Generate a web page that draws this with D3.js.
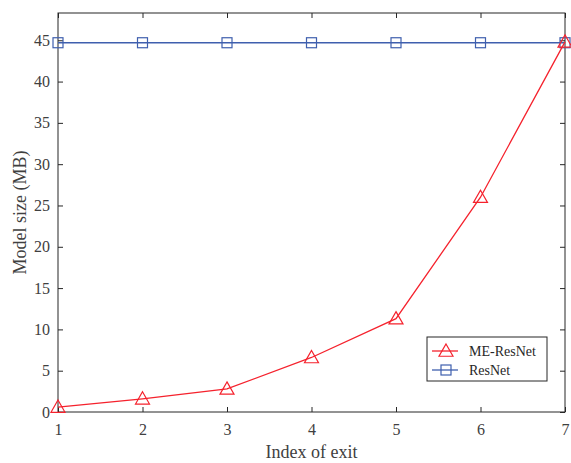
<!DOCTYPE html>
<html>
<head>
<meta charset="utf-8">
<script src="https://cdn.jsdelivr.net/npm/d3@7"></script>
<style>
  body { margin: 0; background: #fff; }
  svg { display: block; }
</style>
</head>
<body>
<svg id="chart" width="571" height="463"></svg>
<script>
// exit indices and model sizes (MB)
const exits = [1, 2, 3, 4, 5, 6, 7];
const meResNet = [0.6, 1.6, 2.8, 6.6, 11.3, 26.0, 44.8];
const resNet = [44.7, 44.7, 44.7, 44.7, 44.7, 44.7, 44.7];
const yTicks = [0, 5, 10, 15, 20, 25, 30, 35, 40, 45];
const seriesNames = ["ME-ResNet", "ResNet"];

const svg = d3.select("#chart");
const margin = { left: 58, right: 6, top: 13, bottom: 51 };
const width = 571, height = 463;

const x = d3.scaleLinear().domain([1, 7]).range([margin.left, width - margin.right]);
const y = d3.scaleLinear().domain([0, 48.3]).range([height - margin.bottom, margin.top]);

const red = "#f5222d", blue = "#3f5fae";
const font = "'Liberation Serif', 'Times New Roman', serif";

// box + ticks
const axisColor = "#262626";
const g = svg.append("g");

function styleAxis(sel) {
  sel.attr("font-family", null);
  sel.select(".domain").remove();
  sel.selectAll("line").attr("stroke", axisColor);
  sel.selectAll("text").attr("fill", "#404040")
    .style("font-family", font).style("font-size", "16px");
}

g.append("g")
  .attr("transform", `translate(0,${y(0)})`)
  .call(d3.axisBottom(x).tickValues(exits).tickFormat(d3.format("d")).tickSizeInner(-5).tickPadding(12))
  .call(styleAxis);
g.append("g")
  .attr("transform", `translate(0,${margin.top})`)
  .call(d3.axisTop(x).tickValues(exits).tickSizeInner(-5).tickFormat(""))
  .call(styleAxis);
g.append("g")
  .attr("transform", `translate(${margin.left},0)`)
  .call(d3.axisLeft(y).tickValues(yTicks).tickSizeInner(-5).tickPadding(8))
  .call(styleAxis);
g.append("g")
  .attr("transform", `translate(${width - margin.right},0)`)
  .call(d3.axisRight(y).tickValues(yTicks).tickSizeInner(-5).tickFormat(""))
  .call(styleAxis);

g.append("rect")
  .attr("x", margin.left).attr("y", margin.top)
  .attr("width", x(7) - x(1)).attr("height", y(0) - margin.top)
  .attr("fill", "none").attr("stroke", axisColor).attr("stroke-width", 1);

// markers
function triangle(sel, cx, cy, color) {
  const s = 7;
  sel.append("path")
    .attr("d", `M${cx},${cy - s}L${cx + s},${cy + s * 0.75}L${cx - s},${cy + s * 0.75}Z`)
    .attr("fill", "none").attr("stroke", color).attr("stroke-width", 1.2);
}
function square(sel, cx, cy, color) {
  const s = 5;
  sel.append("rect")
    .attr("x", cx - s).attr("y", cy - s).attr("width", 2 * s).attr("height", 2 * s)
    .attr("fill", "none").attr("stroke", color).attr("stroke-width", 1.2);
}

const line = d3.line().x((d, i) => x(exits[i])).y(d => y(d));

const resG = svg.append("g");
resG.append("path").datum(resNet).attr("d", line)
  .attr("fill", "none").attr("stroke", blue).attr("stroke-width", 1.3);
resNet.forEach((v, i) => square(resG, x(exits[i]), y(v), blue));

const meG = svg.append("g");
meG.append("path").datum(meResNet).attr("d", line)
  .attr("fill", "none").attr("stroke", red).attr("stroke-width", 1.3);
meResNet.forEach((v, i) => triangle(meG, x(exits[i]), y(v), red));

// axis titles
svg.append("text")
  .attr("x", (x(1) + x(7)) / 2).attr("y", 458)
  .attr("text-anchor", "middle")
  .style("font-family", font).style("font-size", "18px").attr("fill", "#404040")
  .text("Index of exit");
svg.append("text")
  .attr("transform", `translate(26,${(y(0) + margin.top) / 2}) rotate(-90)`)
  .attr("text-anchor", "middle")
  .style("font-family", font).style("font-size", "18px").attr("fill", "#404040")
  .text("Model size (MB)");

// legend
const leg = svg.append("g").attr("transform", "translate(427,337)");
leg.append("rect").attr("width", 120).attr("height", 44)
  .attr("fill", "#fff").attr("stroke", axisColor).attr("stroke-width", 1);
const legColors = [red, blue];
seriesNames.forEach((name, i) => {
  const ly = 14 + i * 19;
  leg.append("line").attr("x1", 5).attr("x2", 31).attr("y1", ly).attr("y2", ly)
    .attr("stroke", legColors[i]).attr("stroke-width", 1.3);
  if (i === 0) triangle(leg, 19, ly, red); else square(leg, 19, ly, blue);
  leg.append("text").attr("x", 42).attr("y", ly + 5)
    .style("font-family", font).style("font-size", "14px").attr("fill", "#262626")
    .text(name);
});
</script>
</body>
</html>
